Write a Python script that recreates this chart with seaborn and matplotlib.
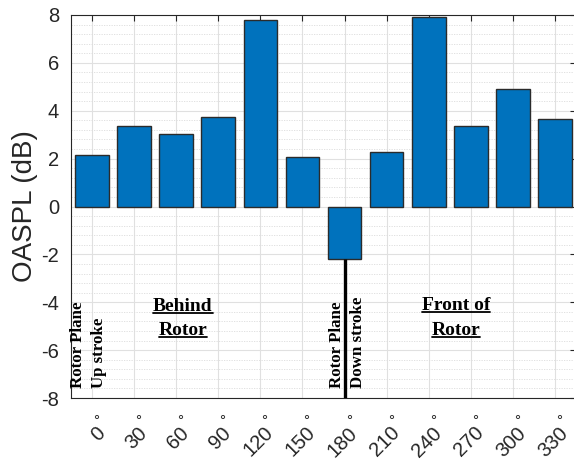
import matplotlib
matplotlib.use("Agg")
import matplotlib.pyplot as plt
import seaborn as sns
import pandas as pd
import numpy as np
from matplotlib.ticker import MultipleLocator
from matplotlib.lines import Line2D
from matplotlib.transforms import ScaledTranslation

angles = ["0", "30", "60", "90", "120", "150", "180", "210", "240", "270", "300", "330"]
oaspl = [2.15, 3.36, 3.02, 3.74, 7.80, 2.07, -2.18, 2.28, 7.90, 3.36, 4.91, 3.65]
degree = "\u00b0"
y_ticks = [-8, -6, -4, -2, 0, 2, 4, 6, 8]

sns.set_style("white")
plt.rcParams["font.family"] = ["Liberation Sans", "DejaVu Sans"]

df = pd.DataFrame({"angle": angles, "oaspl": oaspl})

fig = plt.figure(figsize=(5.74, 4.72), dpi=100)
ax = fig.add_axes([71 / 574, 74 / 472, 505 / 574, 383 / 472])

sns.barplot(data=df, x="angle", y="oaspl", order=angles, color="#0072BD",
            saturation=1, width=0.8, edgecolor="#2b2b2b", linewidth=1.0, ax=ax,
            errorbar=None, zorder=3)

ax.set_xlim(-0.5, 11.5)
ax.set_ylim(-8, 8)
ax.set_yticks(y_ticks)
ax.set_yticklabels([str(v) for v in y_ticks])
ax.yaxis.set_minor_locator(MultipleLocator(0.4))
ax.set_xticks(range(len(angles)))
ax.set_xticklabels(angles, rotation=45, ha="right", va="center",
                   rotation_mode="anchor")

ax.set_axisbelow(True)
ax.grid(which="major", axis="both", color="#e0e0e0", linewidth=0.8, linestyle="-")
ax.grid(which="minor", axis="y", color="#dcdcdc", linewidth=0.6, linestyle=(0, (1.5, 1.5)))

ax.tick_params(axis="both", which="major", direction="in", length=4, width=0.8,
               top=True, right=True, color="#262626", labelcolor="#262626",
               labelsize=14.5)
ax.tick_params(axis="x", which="major", pad=23)
ax.tick_params(axis="y", which="major", pad=8.5)
ax.tick_params(which="minor", length=0)
for s in ax.spines.values():
    s.set_visible(True)
    s.set_color("#262626")
    s.set_linewidth(0.8)

shift = ScaledTranslation(0.10, 0, fig.dpi_scale_trans)
for lbl in ax.get_xticklabels():
    lbl.set_transform(lbl.get_transform() + shift)

# degree marks above each rotated angle label
for i in range(len(angles)):
    ax.annotate(degree, xy=(i, 0), xycoords=("data", "axes fraction"),
                xytext=(3, -11.5), textcoords="offset points",
                ha="center", va="top", fontsize=11, color="#262626")

ax.set_xlabel("")
ax.set_ylabel("OASPL (dB)", fontsize=20, color="#262626", labelpad=2.5)

# vertical black line at 180 deg from bar bottom to axis bottom
i180 = angles.index("180")
ax.vlines(i180, ax.get_ylim()[0], oaspl[i180], color="black", linewidth=2.4, zorder=4)

serif = ["Liberation Serif", "DejaVu Serif"]
kw_rot = dict(rotation=90, ha="center", va="bottom", fontsize=12.2,
              fontweight="bold", family=serif, color="black", zorder=5)
ax.text(-0.33, -7.6, "Rotor Plane", **kw_rot)
ax.text(0.17, -7.6, "Up stroke", **kw_rot)
ax.text(5.82, -7.6, "Rotor Plane", **kw_rot)
ax.text(6.32, -7.6, "Down stroke", **kw_rot)

kw_lbl = dict(ha="center", va="center", fontsize=14, fontweight="bold",
              family=serif, color="black", zorder=5)
under = [
    ax.text(2.16, -4.16, "Behind", **kw_lbl),
    ax.text(2.16, -5.18, "Rotor", **kw_lbl),
    ax.text(8.65, -4.12, "Front of", **kw_lbl),
    ax.text(8.65, -5.18, "Rotor", **kw_lbl),
]

fig.canvas.draw()
r = fig.canvas.get_renderer()
inv = fig.transFigure.inverted()
for t in under:
    bb = t.get_window_extent(renderer=r)
    (x0, y0) = inv.transform((bb.x0, bb.y0 + 2))
    (x1, _) = inv.transform((bb.x1, bb.y0 + 2))
    fig.add_artist(Line2D([x0, x1], [y0, y0], color="black", linewidth=1.3,
                          transform=fig.transFigure))

fig.savefig("out.png", dpi=100)
